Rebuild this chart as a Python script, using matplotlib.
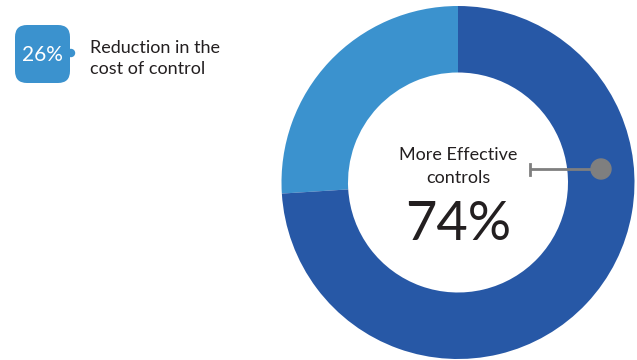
import matplotlib.pyplot as plt
from matplotlib.patches import FancyBboxPatch, Circle

plt.rcParams['font.family'] = ['Lato', 'DejaVu Sans']

# donut shares
labels = ["Reduction in the cost of control", "More Effective controls"]
shares = [26, 74]
colors = ["#3b92ce", "#2758a6"]
callout_lines = ["Reduction in the", "cost of control"]
center_lines = ["More Effective", "controls"]

W, H = 637, 360
fig = plt.figure(figsize=(W / 100, H / 100), dpi=100)
ax = fig.add_axes([0, 0, 1, 1])

# pixel-like coordinates (y measured up from bottom)
cx, cy, r_out, r_in = 458, 177.5, 176.5, 110
ax.pie(shares, colors=colors, startangle=90, counterclock=True,
       center=(cx, cy), radius=r_out,
       wedgeprops=dict(width=r_out - r_in, linewidth=0))
ax.set_xlim(0, W)
ax.set_ylim(0, H)
ax.set_aspect('equal')
ax.axis('off')

# centre labels
for line, yb in zip(center_lines, [200, 177]):
    ax.text(cx, yb, line, ha='center', va='baseline', fontsize=13,
            color='#231f20')
ax.text(cx, 120, f"{shares[1]}%", ha='center', va='baseline', fontsize=39,
        color='#231f20')

# pointer from the dark segment
ax.plot([530, 601], [191, 191], color='#7f7f7f', lw=2, solid_capstyle='butt')
ax.plot([530, 530], [185.5, 196.5], color='#7f7f7f', lw=2)
ax.add_patch(Circle((601, 191), 10, color='#7f7f7f', zorder=3))

# badge for the light segment
badge = FancyBboxPatch((15, 277), 55, 58, boxstyle="round,pad=0,rounding_size=12",
                       fc=colors[0], ec='none')
ax.add_patch(badge)
ax.add_patch(Circle((71, 307), 3.5, color=colors[0]))
ax.text(42.5, 299, f"{shares[0]}%", ha='center', va='baseline', fontsize=15,
        color='white')
for line, yb in zip(callout_lines, [307, 286]):
    ax.text(90, yb, line, ha='left', va='baseline', fontsize=13,
            color='#231f20')

fig.savefig("out.png", dpi=100)
